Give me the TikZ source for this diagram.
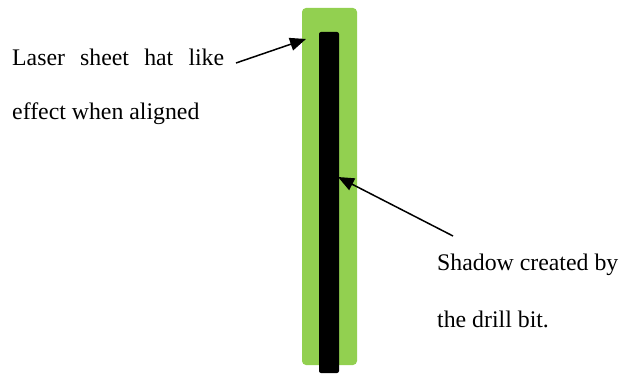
\documentclass[tikz,border=0pt]{standalone}
\usepackage{fontspec}
\setmainfont{Liberation Serif}
\usetikzlibrary{arrows.meta,positioning}
\definecolor{LaserGreen}{HTML}{92D050}

\begin{document}
\begin{tikzpicture}[x=1pt,y=-1pt,lbl/.style={anchor=base west,inner sep=0pt,font=\fontsize{23.8}{28}\selectfont},arr/.style={-{Triangle[length=16pt,width=13pt]},line width=1.5pt}]
\useasboundingbox (0,0) rectangle (620,374);
\fill[LaserGreen,rounded corners=4pt] (302,8) rectangle (357,365);
\fill[black,rounded corners=2pt] (319,32) rectangle (339,373);
\node[lbl] (hat1) at (12,66) {\makebox[212pt][s]{Laser sheet hat like}};
\node[lbl] (hat2) at (12,120) {effect when aligned};
\node[lbl] (shd1) at (437,270) {Shadow created by};
\node[lbl] (shd2) at (437,327) {the drill bit.};
\coordinate (hatfrom) at (236,63);
\coordinate (hatto) at (306,39);
\coordinate (shdfrom) at (453,236);
\coordinate (shdto) at (338,177);
\draw[arr] (hatfrom)--(hatto);
\draw[arr] (shdfrom)--(shdto);
\end{tikzpicture}
\end{document}
